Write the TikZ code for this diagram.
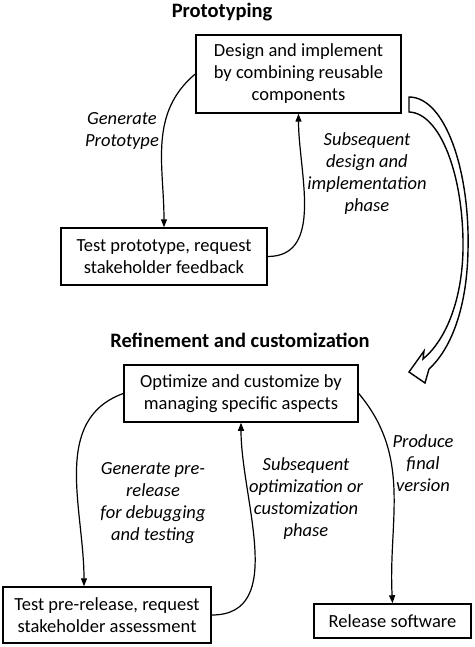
\documentclass[tikz,border=0pt]{standalone}
\usepackage{fontspec}
\setmainfont{Carlito}
\usetikzlibrary{arrows.meta}
\begin{document}
\begin{tikzpicture}
[x=1pt,y=-1pt,
  boxdecorate/.style={shape=rectangle,draw,line width=1.5pt,align=center,
    inner sep=0pt,font=\fontsize{18.5}{22}\selectfont},%
  linedecorate/.style={-{Triangle[length=8pt,width=6pt]},line width=1.2pt},%
  labeldecorate/.style={align=center,font=\fontsize{18.5}{22}\selectfont\itshape},%
  titledecorate/.style={font=\fontsize{20.5}{22}\selectfont\bfseries}]
\useasboundingbox (0,0) rectangle (474,647);
%% titles
\node (prototyping) at (222,12) [titledecorate] {Prototyping};
\node (refinement) at (240,340) [titledecorate] {Refinement and customization};
%% boxes
\foreach \nodename/\x/\y/\w/\h/\txt in {
  design/298.5/74/205/78/{Design and implement\\by combining reusable\\components},
  {test/164/256.5/206/57/Test prototype, request\\stakeholder feedback},
  optimize/241/393.5/234/57/{Optimize and customize by\\managing specific aspects},
  {pre/107/615/208/56/Test pre-release, request\\stakeholder assessment},
  release/392.5/621/157/34/{Release software}}
{
  \node (\nodename) at (\x,\y) [boxdecorate,minimum width=\w pt,minimum height=\h pt] {\txt};
}
%% labels
\node (generate) at (122,131) [labeldecorate] {Generate\\Prototype};
\node (subdesign) at (367,174) [labeldecorate] {Subsequent\\design and\\implementation\\phase};
\node (prerelease) at (153,503) [labeldecorate] {Generate pre-\\release\\for debugging\\and testing};
\node (suboptimize) at (306,499) [labeldecorate] {Subsequent\\optimization or\\customization\\phase};
\node (produce) at (423,463) [labeldecorate] {Produce\\final\\version};
%% connectors
\coordinate (prein) at ([xshift=-23pt]pre.north);
\path
\foreach \startnode/\endnode/\o/\i in {design.west/test.north/220/90,
  test.east/design.south/0/-90, optimize.west/prein/200/90,
  pre.east/optimize.south/0/-90, optimize.east/release.north/-50/93} {
  (\startnode) edge[linedecorate,out=\o,in=\i] (\endnode)
};
%% hollow arrow between the phases
\draw[line width=1.4pt,fill=white,line join=miter]
  (409,97) .. controls (445,97) and (470,170) .. (468,250)
  .. controls (467,310) and (450,350) .. (429,369) -- (425,383) -- (409,372)
  -- (424,351) -- (423,359) .. controls (446,340) and (462,300) .. (463,250)
  .. controls (464,175) and (440,113) .. (409,112) -- cycle;
\end{tikzpicture}
\end{document}
